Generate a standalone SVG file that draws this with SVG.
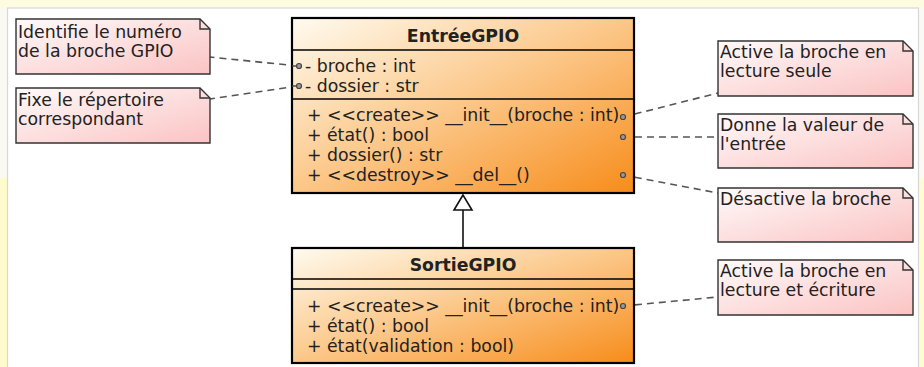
<svg xmlns="http://www.w3.org/2000/svg" width="924" height="367" viewBox="0 0 924 367">
<defs>
<linearGradient id="gCls" x1="0" y1="0" x2="1" y2="1">
<stop offset="0" stop-color="#fffbf0"/>
<stop offset="0.45" stop-color="#fccc92"/>
<stop offset="1" stop-color="#f78c1a"/>
</linearGradient>
<linearGradient id="gNote" x1="0" y1="0" x2="1" y2="1">
<stop offset="0" stop-color="#fffafa"/>
<stop offset="1" stop-color="#fbc3c3"/>
</linearGradient>
<style>
text{font-family:"DejaVu Sans",sans-serif;font-size:17.3px;fill:#222}
.title{font-weight:bold;text-anchor:middle}
.cls{fill:url(#gCls);stroke:#000;stroke-width:2.2}
.sep{stroke:#000;stroke-width:1.6}
.note{fill:url(#gNote);stroke:#333;stroke-width:1.4}
.fold{fill:none;stroke:#333;stroke-width:1.4}
.dash{fill:none;stroke:#555;stroke-width:1.6;stroke-dasharray:7,5}
.solid{fill:none;stroke:#444;stroke-width:1.4}
.dot{fill:#999;stroke:#444;stroke-width:1.2}
</style>
</defs>
<rect x="0" y="0" width="924" height="367" fill="#fdfbe0"/>
<rect x="0" y="8" width="7" height="170" fill="#fbfaf2"/>
<rect x="0" y="178" width="7" height="189" fill="#fffbcc"/>
<rect x="918" y="8" width="6" height="170" fill="#fbfaf2"/>
<rect x="918" y="178" width="6" height="189" fill="#fffbd4"/>
<rect x="7.5" y="8" width="911" height="362" fill="#ffffff" stroke="#d8d8d8" stroke-width="1.2"/>

<g id="connectors">
<line class="dash" x1="298" y1="66" x2="210" y2="57"/>
<line class="dash" x1="298" y1="86" x2="210" y2="99"/>
<line class="dash" x1="623" y1="117" x2="718" y2="93"/>
<line class="dash" x1="623" y1="137" x2="718" y2="137"/>
<line class="dash" x1="623" y1="175" x2="718" y2="193"/>
<line class="dash" x1="623" y1="306" x2="718" y2="297"/>
<line x1="463" y1="210" x2="463" y2="248" stroke="#111" stroke-width="1.6"/>
<polygon points="463,195 454,210 472,210" fill="#fff" stroke="#111" stroke-width="1.6"/>
</g>

<g id="EntreeGPIO">
<rect class="cls" x="292" y="18" width="342" height="175"/>
<line class="sep" x1="292" y1="50" x2="634" y2="50"/>
<line class="sep" x1="292" y1="99" x2="634" y2="99"/>
<text class="title" x="463" y="42">EntréeGPIO</text>
<text x="305" y="72">- broche : int</text>
<text x="305" y="92">- dossier : str</text>
<text x="307" y="121">+ &lt;&lt;create&gt;&gt; __init__(broche : int)</text>
<text x="307" y="141">+ état() : bool</text>
<text x="307" y="161">+ dossier() : str</text>
<text x="307" y="181">+ &lt;&lt;destroy&gt;&gt; __del__()</text>
<line class="solid" x1="292" y1="66" x2="298" y2="66"/>
<line class="solid" x1="292" y1="86" x2="298" y2="86"/>
<circle class="dot" cx="299" cy="66" r="2.5"/>
<circle class="dot" cx="299" cy="86" r="2.5"/>
<circle class="dot" cx="623" cy="117" r="2.5"/>
<circle class="dot" cx="623" cy="137" r="2.5"/>
<circle class="dot" cx="623" cy="175" r="2.5"/>
</g>

<g id="SortieGPIO">
<rect class="cls" x="292" y="248" width="342" height="115"/>
<line class="sep" x1="292" y1="279" x2="634" y2="279"/>
<line class="sep" x1="292" y1="289" x2="634" y2="289"/>
<text class="title" x="463" y="271">SortieGPIO</text>
<text x="307" y="312">+ &lt;&lt;create&gt;&gt; __init__(broche : int)</text>
<text x="307" y="332">+ état() : bool</text>
<text x="307" y="352">+ état(validation : bool)</text>
<circle class="dot" cx="623" cy="306" r="2.5"/>
</g>

<g id="note_broche">
<path class="note" d="M16,19 H200 L210,29 V74 H16 Z"/>
<path class="fold" d="M200,19 V29 H210"/>
<text x="18" y="38">Identifie le numéro</text>
<text x="18" y="57">de la broche GPIO</text>
</g>
<g id="note_dossier">
<path class="note" d="M16,88 H200 L210,98 V143 H16 Z"/>
<path class="fold" d="M200,88 V98 H210"/>
<text x="18" y="106">Fixe le répertoire</text>
<text x="18" y="125">correspondant</text>
</g>
<g id="note_init">
<path class="note" d="M718,41 H903 L913,51 V96 H718 Z"/>
<path class="fold" d="M903,41 V51 H913"/>
<text x="720" y="58">Active la broche en</text>
<text x="720" y="77">lecture seule</text>
</g>
<g id="note_etat">
<path class="note" d="M718,114 H903 L913,124 V168 H718 Z"/>
<path class="fold" d="M903,114 V124 H913"/>
<text x="720" y="131">Donne la valeur de</text>
<text x="720" y="150">l'entrée</text>
</g>
<g id="note_del">
<path class="note" d="M718,188 H903 L913,198 V242 H718 Z"/>
<path class="fold" d="M903,188 V198 H913"/>
<text x="720" y="205">Désactive la broche</text>
</g>
<g id="note_sortie">
<path class="note" d="M718,260 H903 L913,270 V315 H718 Z"/>
<path class="fold" d="M903,260 V270 H913"/>
<text x="720" y="277">Active la broche en</text>
<text x="720" y="296">lecture et écriture</text>
</g>
</svg>
